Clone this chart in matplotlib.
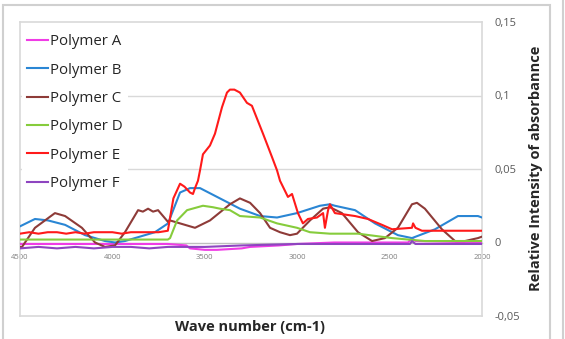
import matplotlib
matplotlib.use("Agg")
import matplotlib.pyplot as plt
from matplotlib.patches import Rectangle
from matplotlib.lines import Line2D

plt.rcParams['font.family'] = ['Open Sans', 'DejaVu Sans']

# ---- data ----
wn_A = [4500, 3700, 3600, 3580, 3500, 3434, 3300, 3255, 3100, 3000, 2800, 2400, 2379, 2360, 2000]
val_A = [-0.001, -0.001, -0.002, -0.004, -0.005, -0.005, -0.004, -0.003, -0.002, -0.001, 0.0, 0.0, 0.003, 0.001, 0.0]

wn_B = [4500, 4419, 4348, 4256, 4148, 4040, 3986, 3932, 3770, 3699, 3634, 3580, 3526, 3418, 3310, 3201,
        3109, 3001, 2877, 2823, 2796, 2687, 2579, 2455, 2379, 2254, 2130, 2022, 2000]
val_B = [0.011, 0.016, 0.015, 0.012, 0.005, 0.001, 0.0, 0.001, 0.007, 0.013, 0.034, 0.037, 0.037, 0.030, 0.023, 0.018,
         0.017, 0.020, 0.025, 0.026, 0.025, 0.022, 0.013, 0.005, 0.003, 0.009, 0.018, 0.018, 0.017]

wn_C = [4500, 4489, 4419, 4311, 4256, 4165, 4094, 4040, 3986, 3932, 3861, 3835, 3807, 3780, 3753, 3699, 3688,
        3634, 3553, 3472, 3364, 3310, 3255, 3201, 3147, 3093, 3039, 3001, 2931, 2860, 2823, 2758, 2671,
        2595, 2525, 2455, 2379, 2352, 2309, 2217, 2146, 2092, 2022, 2000]
val_C = [-0.003, -0.003, 0.010, 0.020, 0.018, 0.010, 0.000, -0.003, -0.002, 0.007, 0.022, 0.021, 0.023, 0.021, 0.022, 0.014, 0.015,
         0.013, 0.010, 0.015, 0.026, 0.030, 0.027, 0.020, 0.010, 0.007, 0.005, 0.006, 0.015, 0.023, 0.024, 0.020, 0.007,
         0.001, 0.003, 0.010, 0.026, 0.027, 0.023, 0.009, 0.001, 0.001, 0.003, 0.004]

wn_D = [4500, 3700, 3688, 3650, 3596, 3510, 3456, 3418, 3364, 3310, 3201, 3109, 3001, 2931, 2823, 2671, 2487, 2309, 2022, 2000]
val_D = [0.002, 0.002, 0.003, 0.015, 0.022, 0.025, 0.024, 0.023, 0.022, 0.018, 0.017, 0.013, 0.010, 0.007, 0.006, 0.006, 0.003, 0.001, 0.001, 0.001]

wn_E = [4500, 4450, 4400, 4350, 4300, 4250, 4200, 4150, 4100, 4050, 4000, 3950, 3900, 3850, 3800, 3750, 3700,
        3670, 3634, 3610, 3580, 3564, 3553, 3537, 3526, 3510, 3472, 3445, 3407, 3380, 3364, 3340, 3310, 3272,
        3245, 3185, 3136, 3109, 3093, 3050, 3028, 2996, 2969, 2942, 2893, 2860, 2850, 2833, 2823, 2796, 2687,
        2617, 2541, 2487, 2379, 2373, 2360, 2325, 2217, 2000]
val_E = [0.006, 0.007, 0.006, 0.007, 0.007, 0.006, 0.007, 0.006, 0.007, 0.007, 0.007, 0.006, 0.007, 0.007, 0.007, 0.007, 0.008,
         0.030, 0.040, 0.038, 0.034, 0.033, 0.037, 0.042, 0.049, 0.060, 0.066, 0.074, 0.092, 0.102, 0.104, 0.104, 0.102, 0.095,
         0.093, 0.074, 0.058, 0.049, 0.042, 0.031, 0.033, 0.020, 0.013, 0.016, 0.017, 0.020, 0.010, 0.022, 0.026, 0.020, 0.018,
         0.016, 0.012, 0.009, 0.010, 0.013, 0.010, 0.008, 0.008, 0.008]

wn_F = [4500, 4400, 4300, 4200, 4100, 4000, 3900, 3800, 3700, 3500, 3300, 3000, 2500, 2390, 2379, 2360, 2000]
val_F = [-0.004, -0.003, -0.004, -0.003, -0.004, -0.003, -0.003, -0.004, -0.003, -0.003, -0.002, -0.001, -0.001, -0.001, 0.001, -0.001, -0.001]

labels = ['Polymer A', 'Polymer B', 'Polymer C', 'Polymer D', 'Polymer E', 'Polymer F']
colors = ['#F03CE6', '#2A86D4', '#8E3B38', '#86CC3C', '#FF1A1A', '#8E45C0']
x_ticks = [4500, 4000, 3500, 3000, 2500, 2000]
y_ticks = [-0.05, 0, 0.05, 0.1, 0.15]
y_tick_labels = ['-0,05', '0', '0,05', '0,1', '0,15']

W, H = 565, 339
fig = plt.figure(figsize=(W / 100, H / 100), dpi=100)
ax = fig.add_axes([20 / W, 1 - 316 / H, 462 / W, 294 / H])

series = [(wn_A, val_A), (wn_B, val_B), (wn_C, val_C), (wn_D, val_D), (wn_E, val_E), (wn_F, val_F)]
order = [3, 1, 2, 4, 0, 5]
handles = {}
for i in order:
    x, y = series[i]
    ln, = ax.plot(x, y, color=colors[i], lw=1.5, label=labels[i], zorder=3 + i * 0.1)
    handles[i] = ln

ax.set_xlim(4500, 2000)
ax.set_ylim(-0.05, 0.15)

# grid lines
for g in [0.05, 0.1]:
    ax.axhline(g, color='#d9d9d9', lw=1, zorder=1)
ax.axhline(-0.05, color='#d9d9d9', lw=1.2, zorder=1, clip_on=False)

for s in ['top', 'left', 'right']:
    ax.spines[s].set_color('#d9d9d9')
    ax.spines[s].set_linewidth(1.2)
ax.spines['bottom'].set_position(('data', 0))
ax.spines['bottom'].set_color('#bfbfbf')
ax.spines['bottom'].set_linewidth(1.0)

ax.set_xticks(x_ticks)
ax.set_xticklabels([str(t) for t in x_ticks], fontsize=5.5, color='#7f7f7f')
ax.tick_params(axis='x', length=0, pad=8)

ax.yaxis.tick_right()
ax.set_yticks(y_ticks)
ax.set_yticklabels(y_tick_labels, fontsize=8, color='#595959')
ax.tick_params(axis='y', length=0, pad=9)

fig.text(250 / W, 1 - 327 / H, 'Wave number (cm-1)', ha='center', va='center',
         fontsize=10.5, fontweight='bold', color='#262626')
fig.text(536 / W, 1 - 168 / H, 'Relative Intensity of absorbannce', ha='center', va='center',
         rotation=90, fontsize=10.5, fontweight='bold', color='#262626')

leg = ax.legend([handles[i] for i in range(6)], labels, loc='upper left',
                bbox_to_anchor=(2 / 462, 1 - 7 / 294), fontsize=10.8,
                frameon=True, facecolor='white', edgecolor='none', framealpha=1,
                handlelength=1.4, handletextpad=0.15, labelspacing=0.89,
                borderpad=0.35, borderaxespad=0)
for t in leg.get_texts():
    t.set_color('#262626')
leg.set_zorder(5)

# outer chart border
fig.patches.append(Rectangle((3 / W, -0.05), 547 / W, 1 - 5 / H + 0.05, transform=fig.transFigure,
                             fill=False, edgecolor='#d0d0d0', lw=1.5))
fig.lines.append(Line2D([563 / W, 563 / W], [0, 1], transform=fig.transFigure, color='#d0d0d0', lw=1.5))

fig.savefig('out.png', dpi=100)
